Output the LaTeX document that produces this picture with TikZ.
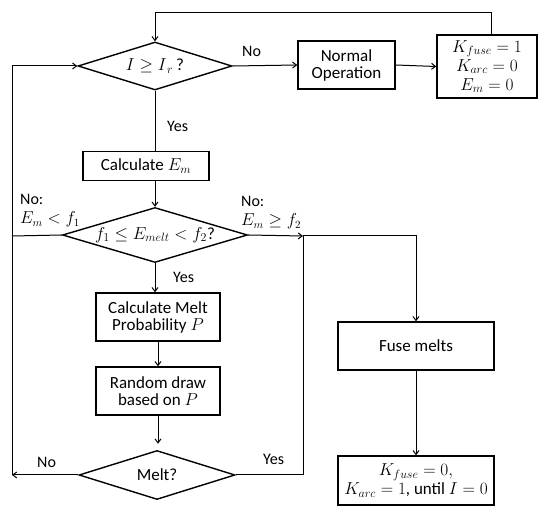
\documentclass[tikz,border=0pt]{standalone}
\usepackage{fontspec}
\setmainfont{Carlito}
\usetikzlibrary{shapes.geometric,arrows.meta}
\begin{document}
\begin{tikzpicture}[x=1pt,y=-1pt,
  font=\fontsize{17}{19}\selectfont,
  every node/.style={inner sep=0pt},
  every label/.style={font=\fontsize{17}{19}\selectfont,inner sep=0pt},
  boxnode/.style={draw,line width=1.4pt,rectangle,align=center},
  dianode/.style={draw,line width=1.4pt,diamond},
  conn/.style={line width=1pt},
  arr/.style={conn,-{Straight Barb[length=4pt,width=6pt]}},
  lbl/.style={align=left,font=\fontsize{16}{18}\selectfont}]
\useasboundingbox (0,0) rectangle (550,516);
% nodes
\node[dianode,minimum width=154pt,minimum height=48pt,label={[name=d1t]center:$I\geq I_{\,r}$\,?}] (d1) at (155,66) {};
\node[boxnode,minimum width=97pt,minimum height=48pt] (normal) at (346.5,65) {Normal\\[-2pt]Operation};
\node[boxnode,minimum width=100pt,minimum height=63pt] (kbox) at (487,66.5) {$K_{fuse}=1$\\$K_{arc}=0$\\$E_m=0$};
\node[boxnode,minimum width=126pt,minimum height=29pt] (calc) at (146,166) {Calculate $E_m$};
\node[dianode,minimum width=185pt,minimum height=55pt,label={[name=d2t]center:$f_1\leq E_{melt}<f_2$?}] (d2) at (155,235) {};
\node[boxnode,minimum width=124pt,minimum height=48pt] (prob) at (158,317) {Calculate Melt\\[-2pt]Probability $P$};
\node[boxnode,minimum width=124pt,minimum height=48pt] (rand) at (158,391) {Random draw\\[-2pt]based on $P$};
\node[dianode,minimum width=156pt,minimum height=49pt,label={[name=d3t]center:Melt?}] (d3) at (157,475) {};
\node[boxnode,minimum width=156pt,minimum height=48pt] (fuse) at (416,346) {Fuse melts};
\node[boxnode,minimum width=156pt,minimum height=49pt] (final) at (416,480.5) {$K_{fuse}=0,$\\$K_{arc}=1$, until $I=0$};
% coordinates
\coordinate (top) at (155,13);
\coordinate (ktop) at (491,13);
\coordinate (Ltop) at (12,66);
\coordinate (Lmid) at (12,236);
\coordinate (Lbot) at (12,475);
\coordinate (Rmid) at (303,236);
\coordinate (Rbot) at (303,475);
\coordinate (Fmid) at (416,236);
% connectors
\draw[arr] (d1.east) -- (normal.west);
\draw[arr] (normal.east) -- (kbox.west);
\draw[arr] (kbox.north -| ktop) -- (ktop) -- (top) -- (d1.north);
\draw[conn] (d1.south) -- (d1.south |- calc.north);
\draw[arr] (d1.south |- calc.south) -- (d2.north);
\draw[arr] (d2.south) -- (prob.north -| d2.south);
\draw[arr] (prob.south) -- (rand.north);
\draw[arr] (rand.south) -- ++(0,28);
\draw[arr] (d3.west) -- (Lbot);
\draw[arr] (Lbot) -- (Ltop) -- (d1.west);
\draw[conn] (d2.west) -- (Lmid);
\draw[arr] (d2.east) -- (Rmid);
\draw[conn] (d3.east) -- (Rbot) -- (Rmid);
\draw[arr] (Rmid) -- (Fmid) -- (fuse.north);
\draw[arr] (fuse.south) -- (final.north);
% labels
\node[lbl,anchor=west] (l1) at (242,51) {No};
\node[lbl,anchor=west] (l2) at (167,126) {Yes};
\node[lbl,anchor=north west] (l3) at (20,194) {No:\\[1pt]$E_m<f_1$};
\node[lbl,anchor=north west] (l4) at (241,196) {No:\\[1pt]$E_m\geq f_2$};
\node[lbl,anchor=west] (l5) at (173,277) {Yes};
\node[lbl,anchor=west] (l6) at (37,462) {No};
\node[lbl,anchor=west] (l7) at (263,459) {Yes};
\end{tikzpicture}
\end{document}
